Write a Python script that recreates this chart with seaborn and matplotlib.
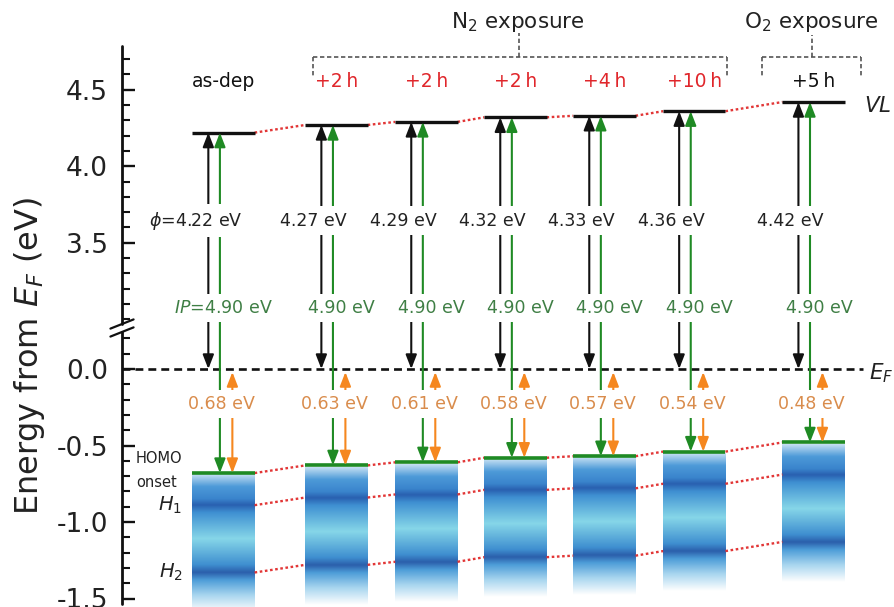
import numpy as np
import pandas as pd
import matplotlib
matplotlib.use("Agg")
import matplotlib.pyplot as plt
import seaborn as sns

# ------------------------------------------------------------------ data
conditions = ["as-dep", "+2\u2009h", "+2\u2009h", "+2\u2009h", "+4\u2009h", "+10\u2009h", "+5\u2009h"]
cond_colors = ["#111111", "#e0262b", "#e0262b", "#e0262b", "#e0262b", "#e0262b", "#111111"]
vacuum_level = [4.22, 4.27, 4.29, 4.32, 4.33, 4.36, 4.42]        # VL = work function (eV above EF)
ionization_potential = [4.90, 4.90, 4.90, 4.90, 4.90, 4.90, 4.90]
homo_onset = [-0.68, -0.63, -0.61, -0.58, -0.57, -0.54, -0.48]   # eV relative to EF
h1_level = [-0.89, -0.84, -0.82, -0.79, -0.78, -0.75, -0.69]
h2_level = [-1.33, -1.28, -1.26, -1.23, -1.22, -1.19, -1.13]
wf_labels = [r"$\phi$=4.22 eV", "4.27 eV", "4.29 eV", "4.32 eV", "4.33 eV", "4.36 eV", "4.42 eV"]
ip_labels = [r"$IP$=4.90 eV", "4.90 eV", "4.90 eV", "4.90 eV", "4.90 eV", "4.90 eV", "4.90 eV"]
homo_labels = ["0.68 eV", "0.63 eV", "0.61 eV", "0.58 eV", "0.57 eV", "0.54 eV", "0.48 eV"]
ytick_major = [-1.5, -1.0, -0.5, 0.0, 3.5, 4.0, 4.5]
ytick_labels = ["-1.5", "-1.0", "-0.5", "0.0", "3.5", "4.0", "4.5"]
ytick_minor_low = [-1.4, -1.3, -1.2, -1.1, -0.9, -0.8, -0.7, -0.6, -0.4, -0.3, -0.2, -0.1, 0.1, 0.2]
ytick_minor_high = [3.0, 3.1, 3.2, 3.3, 3.4, 3.6, 3.7, 3.8, 3.9, 4.1, 4.2, 4.3, 4.4, 4.6, 4.7]

# ------------------------------------------------------------------ layout
col_x = [0.0, 1.27, 2.28, 3.28, 4.28, 5.29, 6.63]   # column centres (1 unit ~ 89 px)
HW = 0.35                                          # half width of level bars
GAP_LO, GAP_HI = 0.26, 2.935                       # broken-axis gap


def Y(v):
    """map energy to broken-axis display coordinate"""
    v = np.asarray(v, dtype=float)
    return np.where(v > 1.5, v - (GAP_HI - GAP_LO), v)


sns.set_theme(style="white")
plt.rcParams["font.family"] = ["DejaVu Sans"]
plt.rcParams["mathtext.fontset"] = "dejavusans"

W, H = 895, 607
fig = plt.figure(figsize=(W / 100, H / 100), dpi=100)
PX_Y = 153.0   # px per eV
Y_BOT, Y_TOP = -1.555, 2.12
y0_px = 369.0
ax_bottom = (H - (y0_px - Y_BOT * PX_Y)) / H
ax_top = (H - (y0_px - Y_TOP * PX_Y)) / H
ax = fig.add_axes([122 / W, ax_bottom, 773 / W, ax_top - ax_bottom])
XL, XR = -1.14, 7.545

BLACK = "#111111"
GREEN = "#1f8a24"
GREEN_TXT = "#3f7f45"
ORANGE = "#f5871f"
ORANGE_TXT = "#d98c4c"
RED = "#e23636"
TXT = "#222222"

# ---- gradient boxes (HOMO manifold)
def box_colors(vals, homo, h1, h2):
    stops = [
        (h2 - 0.26, "#ffffff"),
        (h2 - 0.15, "#a9d6ef"),
        (h2 - 0.05, "#4d9dd8"),
        (h2, "#2b5fab"),
        (h2 + 0.05, "#3f8fd0"),
        ((h1 + h2) / 2, "#86d6e8"),
        (h1 - 0.05, "#3f90d2"),
        (h1, "#2960b0"),
        (h1 + 0.04, "#3a84cc"),
        (homo - 0.09, "#4d9ad8"),
        (homo, "#d4e8f6"),
    ]
    sv = np.array([s[0] for s in stops])
    sc = np.array([matplotlib.colors.to_rgb(s[1]) for s in stops])
    return np.stack([np.interp(vals, sv, sc[:, k]) for k in range(3)], axis=-1)


for i, x in enumerate(col_x):
    top = homo_onset[i] - 0.01
    bot = h2_level[i] - 0.26
    vals = np.linspace(top, bot, 300)
    img = box_colors(vals, homo_onset[i], h1_level[i], h2_level[i])[:, None, :]
    ax.imshow(img, extent=[x - HW, x + HW, float(Y(bot)), float(Y(top))],
              origin="upper", aspect="auto", interpolation="bilinear", zorder=1)

# ---- level bars (seaborn)
def level_df(values):
    rows = []
    for i, (x, v) in enumerate(zip(col_x, values)):
        rows.append({"unit": i, "x": x - HW, "y": float(Y(v))})
        rows.append({"unit": i, "x": x + HW, "y": float(Y(v))})
    return pd.DataFrame(rows)


def connector_df(values):
    rows = []
    for i in range(len(values) - 1):
        rows.append({"unit": i, "x": col_x[i] + HW, "y": float(Y(values[i]))})
        rows.append({"unit": i, "x": col_x[i + 1] - HW, "y": float(Y(values[i + 1]))})
    return pd.DataFrame(rows)


sns.lineplot(data=level_df(vacuum_level), x="x", y="y", units="unit", estimator=None,
             sort=False, color=BLACK, lw=2.4, legend=False, ax=ax, zorder=4,
             solid_capstyle="butt")
sns.lineplot(data=level_df(homo_onset), x="x", y="y", units="unit", estimator=None,
             sort=False, color=GREEN, lw=2.6, legend=False, ax=ax, zorder=4,
             solid_capstyle="butt")
for vals in (vacuum_level, homo_onset, h1_level, h2_level):
    sns.lineplot(data=connector_df(vals), x="x", y="y", units="unit", estimator=None,
                 sort=False, color=RED, lw=1.7, dashes=(1.1, 1.1), legend=False,
                 ax=ax, zorder=3)

# ---- Fermi level
ax.plot([XL, 7.19], [0, 0], color=BLACK, lw=1.9, dashes=(3.0, 1.9), zorder=3)

# ---- arrows
def darrow(x, ylo, yhi, color):
    ax.annotate("", xy=(x, float(Y(yhi))), xytext=(x, float(Y(ylo))),
                arrowprops=dict(arrowstyle="<|-|>,head_length=0.85,head_width=0.33",
                                color=color, lw=1.5, shrinkA=0, shrinkB=0,
                                mutation_scale=10),
                zorder=5)


DX_BLACK, DX_GREEN, DX_ORANGE = -0.17, -0.04, 0.10
for i, x in enumerate(col_x):
    darrow(x + DX_BLACK, 0.0, vacuum_level[i], BLACK)
    darrow(x + DX_GREEN, homo_onset[i], vacuum_level[i], GREEN)
    darrow(x + DX_ORANGE, homo_onset[i], -0.02, ORANGE)

# ---- value labels with white backing (they break the arrows)
bb = dict(boxstyle="square,pad=0.3", fc="white", ec="none")
for i, x in enumerate(col_x):
    dx = -0.31 if i == 0 else -0.26
    ax.text(x + dx, float(Y(3.645)), wf_labels[i], ha="center", va="center",
            fontsize=12.5, color=TXT, bbox=bb, zorder=7)
    dx = 0.0 if i == 0 else 0.06
    ax.text(x + dx, 0.40, ip_labels[i], ha="center", va="center",
            fontsize=12.5, color=GREEN_TXT, bbox=bb, zorder=7)
    ax.text(x - 0.02, -0.23, homo_labels[i], ha="center", va="center",
            fontsize=12.5, color=ORANGE_TXT, bbox=bb, zorder=7)

# ---- column headings
for i, x in enumerate(col_x):
    ax.text(x, float(Y(4.552)), conditions[i], ha="center", va="center",
            fontsize=13.5, color=cond_colors[i], zorder=7)

# ---- exposure brackets
def bracket(xl, xr, xc, ytop_tick):
    kw = dict(color="#555555", lw=1.2, dashes=(2.6, 1.6), clip_on=False, zorder=6)
    yh = float(Y(4.716))
    yv = float(Y(4.585))
    ax.plot([xl, xr], [yh, yh], **kw)
    ax.plot([xl, xl], [yh, yv], **kw)
    ax.plot([xr, xr], [yh, yv], **kw)
    ax.plot([xc, xc], [yh, float(Y(ytop_tick))], **kw)


bracket(col_x[1] - 0.265, col_x[5] + 0.37, col_x[3] + 0.04, 4.873)
bracket(col_x[6] - 0.58, col_x[6] + 0.53, col_x[6] - 0.02, 4.86)
ax.text(col_x[3] + 0.03, float(Y(4.945)), r"N$_2$ exposure", ha="center", va="center",
        fontsize=15.5, color="#222222", clip_on=False)
ax.text(col_x[6] - 0.03, float(Y(4.945)), r"O$_2$ exposure", ha="center", va="center",
        fontsize=15.5, color="#222222", clip_on=False)

# ---- side labels
ax.text(7.2, float(Y(4.395)), r"$VL$", ha="left", va="center", fontsize=15.5, color=TXT)
ax.text(7.25, -0.03, r"$E_F$", ha="left", va="center", fontsize=15.5, color=TXT)
ax.text(-0.985, -0.585, "HOMO", ha="left", va="center", fontsize=10.5, color=TXT)
ax.text(-0.985, -0.74, "onset", ha="left", va="center", fontsize=10.5, color=TXT)
ax.text(-0.46, h1_level[0], r"$H_\mathit{1}$", ha="right", va="center", fontsize=14, color=TXT)
ax.text(-0.46, h2_level[0], r"$H_\mathit{2}$", ha="right", va="center", fontsize=14, color=TXT)

# ---- broken y axis
for s in ax.spines.values():
    s.set_visible(False)
tr = ax.get_yaxis_transform()
ax.plot([0, 0], [-1.535, 0.242], color=BLACK, lw=2.0, transform=tr, clip_on=False, zorder=6)
ax.plot([0, 0], [0.294, float(Y(4.785))], color=BLACK, lw=2.0, transform=tr, clip_on=False, zorder=6)
for yc in (0.294, 0.242):
    ax.plot([-0.13, 0.13], [yc - 0.032, yc + 0.032], color=BLACK, lw=1.6, clip_on=False,
            zorder=6, transform=ax.transData) if False else None
for yc in (0.294, 0.242):
    ax.plot([XL - 0.13, XL + 0.13], [yc - 0.03, yc + 0.03], color=BLACK, lw=1.6,
            clip_on=False, zorder=6)

ax.set_yticks(Y(ytick_major))
ax.set_yticklabels(ytick_labels)
ax.set_yticks(np.concatenate([Y(ytick_minor_low), Y(ytick_minor_high)]), minor=True)
ax.tick_params(axis="y", which="major", direction="in", length=9, width=1.7,
               labelsize=19, pad=10, left=True, colors=BLACK, labelcolor="#222222")
ax.tick_params(axis="y", which="minor", direction="in", length=5.5, width=1.5, left=True,
               colors=BLACK)
ax.set_xticks([])
ax.set_xlabel("")
ax.set_ylabel("")
ax.set_xlim(XL, XR)
ax.set_ylim(Y_BOT, Y_TOP)
ax.set_facecolor("white")
ax.grid(False)

fig.text(30 / W, (H - 356) / H, r"Energy from $E_F$ (eV)", rotation=90, ha="center",
         va="center", fontsize=23, color="#222222")

fig.savefig("out.png", dpi=100, facecolor="white")
